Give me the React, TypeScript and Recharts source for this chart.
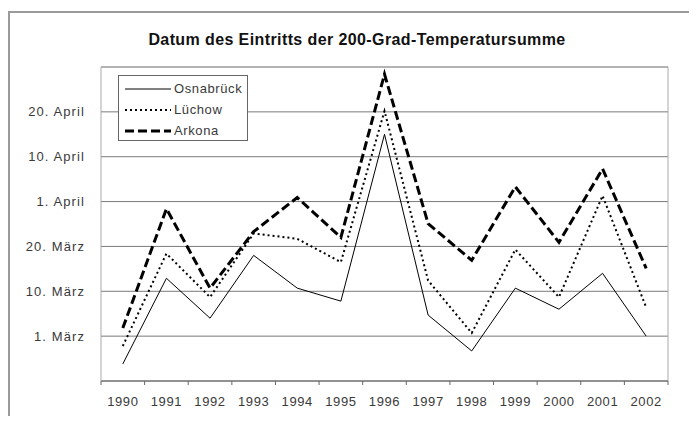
import React from "react";
import { LineChart, Line, XAxis, YAxis, CartesianGrid, Legend, ReferenceLine } from "recharts";

// years and day offsets (days after 1. März, tick step 10)
const years = [1990, 1991, 1992, 1993, 1994, 1995, 1996, 1997, 1998, 1999, 2000, 2001, 2002];
const osnabrueck = [-6.2, 12.9, 4, 18, 10.7, 7.8, 45, 4.7, -3.3, 10.7, 6, 14, 0];
const luechow = [-2.2, 18.4, 8.7, 22.9, 21.7, 16.5, 50.2, 12.4, 0.7, 19.3, 8.7, 31.3, 6.4];
const arkona = [1.8, 28.4, 10.7, 23.3, 30.9, 22, 58.4, 25.1, 16.9, 33.3, 20.9, 37.3, 15.1];

const yTicks = [0, 10, 20, 30, 40, 50];
const yTickLabels = ["1. März", "10. März", "20. März", "1. April", "10. April", "20. April"];

const seriesNames = ["Osnabrück", "Lüchow", "Arkona"];

const data = years.map((year, i) => ({
    year,
    osnabrueck: osnabrueck[i],
    luechow: luechow[i],
    arkona: arkona[i],
}));

// tick marks sit between the years, Excel style
const tickMarks = [...years.map((y) => y - 0.5), years[years.length - 1] + 0.5];

const FONT = "'Liberation Sans', Arial, sans-serif";
const TEXT = "#3a3a3a";

const lineStyles = [
    { key: "osnabrueck", width: 1, dash: undefined },
    { key: "luechow", width: 2, dash: "2 3" },
    { key: "arkona", width: 3, dash: "9 4" },
];

// label drawn half a category to the right of each tick mark
const YearTick = (props: any) => {
    const { x, y, index, width } = props;
    if (index >= years.length) return <g />;
    const half = (width || 567) / (years.length * 2);
    return (
        <text
            x={x + half}
            y={y}
            dy="0.71em"
            textAnchor="middle"
            fontFamily={FONT}
            fontSize={13}
            fill={TEXT}
            letterSpacing={0.6}
        >
            {years[index]}
        </text>
    );
};

const LegendBox = () => (
    <div
        style={{
            border: "1px solid #666",
            background: "#fff",
            width: 130,
            height: 66,
            fontFamily: FONT,
            fontSize: 13,
            color: TEXT,
            letterSpacing: 0.6,
            boxSizing: "border-box",
            paddingTop: 2,
        }}
    >
        {lineStyles.map((s, i) => (
            <div key={s.key} style={{ display: "flex", alignItems: "center", height: 21 }}>
                <svg width={49} height={10} style={{ marginLeft: 6 }}>
                    <line x1={0} y1={5} x2={46} y2={5} stroke="#000" strokeWidth={s.width} strokeDasharray={s.dash} />
                </svg>
                <span>{seriesNames[i]}</span>
            </div>
        ))}
    </div>
);

const App = () => {
    return (
        <div
            style={{
                position: "relative",
                marginTop: 3,
                marginBottom: -8,
                width: 689,
                height: 413,
                borderTop: "2px solid #9a9a9a",
                borderLeft: "2px solid #9a9a9a",
                boxSizing: "border-box",
            }}
        >
            <div
                style={{
                    position: "absolute",
                    top: 18,
                    left: 0,
                    width: 694,
                    textAlign: "center",
                    fontFamily: FONT,
                    fontWeight: "bold",
                    fontSize: 16,
                    letterSpacing: 0.4,
                    color: "#111",
                }}
            >
                Datum des Eintritts der 200-Grad-Temperatursumme
            </div>
            <LineChart
                width={687}
                height={403}
                data={data}
                margin={{ top: 54, right: 29, left: 0, bottom: 5 }}
            >
                <CartesianGrid vertical={false} stroke="#7a7a7a" />
                <XAxis
                    dataKey="year"
                    type="number"
                    domain={[1989.5, 2002.5]}
                    ticks={tickMarks}
                    height={30}
                    stroke="#666"
                    tickSize={4}
                    tickMargin={12}
                    tick={<YearTick />}
                    interval={0}
                />
                <YAxis
                    type="number"
                    domain={[-10, 60]}
                    ticks={yTicks}
                    width={91}
                    stroke="#aaa"
                    tickLine={false}
                    tickSize={0}
                    tickMargin={16}
                    interval={0}
                    tickFormatter={(v: number) => yTickLabels[yTicks.indexOf(v)]}
                    tick={{ fontFamily: FONT, fontSize: 13, fill: TEXT, letterSpacing: 1.1 }}
                />
                <ReferenceLine y={60} stroke="#aaa" />
                <ReferenceLine x={2002.5} stroke="#aaa" />
                <Legend
                    layout="vertical"
                    align="center"
                    verticalAlign="middle"
                    content={() => <LegendBox />}
                    wrapperStyle={{ left: 108, top: 62, width: 130, height: 66 }}
                />
                {lineStyles.map((s, i) => (
                    <Line
                        key={s.key}
                        dataKey={s.key}
                        name={seriesNames[i]}
                        stroke="#000"
                        strokeWidth={s.width}
                        strokeDasharray={s.dash}
                        dot={false}
                        activeDot={false}
                        isAnimationActive={false}
                    />
                ))}
            </LineChart>
        </div>
    );
};

export default App;
